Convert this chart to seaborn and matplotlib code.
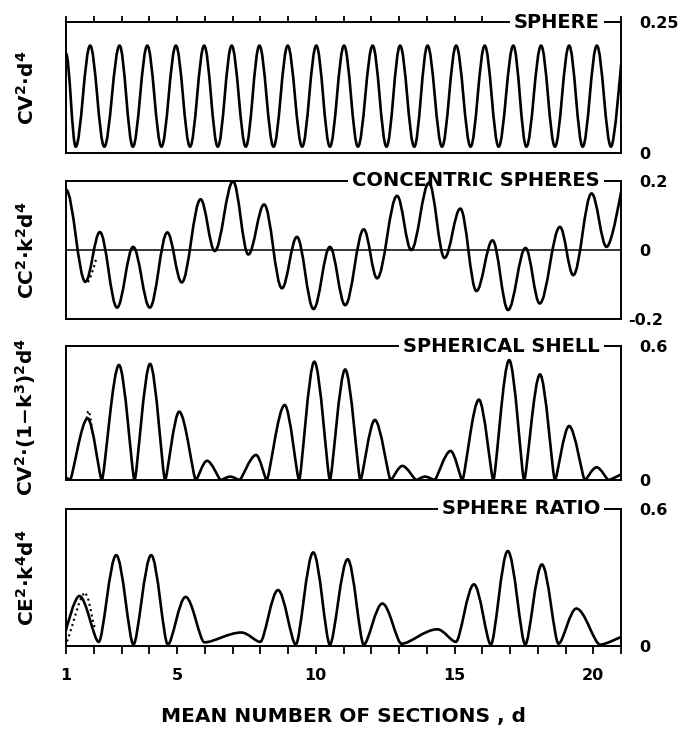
import matplotlib
matplotlib.use("Agg")
import matplotlib.pyplot as plt
import matplotlib.transforms as mtransforms
from matplotlib.path import Path
from matplotlib.patches import PathPatch
import seaborn as sns

# ---------------- data (extrema of each curve) ----------------
sphere_x = [1.00, 1.35, 1.87, 2.38, 2.93, 3.41, 3.93, 4.44, 4.96, 5.47, 5.98, 6.47, 6.97,
            7.48, 7.97, 8.48, 8.99, 9.51, 10.02, 10.51, 11.02, 11.52, 12.05, 12.55, 13.04,
            13.55, 14.03, 14.55, 15.06, 15.58, 16.09, 16.59, 17.12, 17.59, 18.12, 18.62,
            19.13, 19.62, 20.13, 20.64, 21.00]
sphere_y = [0.190, 0.012, 0.205, 0.012, 0.205, 0.012, 0.205, 0.012, 0.205, 0.012, 0.205,
            0.012, 0.205, 0.012, 0.205, 0.012, 0.205, 0.012, 0.205, 0.012, 0.205, 0.012,
            0.205, 0.012, 0.205, 0.012, 0.205, 0.012, 0.205, 0.012, 0.205, 0.012, 0.205,
            0.012, 0.205, 0.012, 0.205, 0.012, 0.205, 0.012, 0.168]

conc_x = [1.00, 1.70, 2.22, 2.84, 3.42, 4.02, 4.65, 5.17, 5.85, 6.36, 7.02, 7.57, 8.14,
          8.78, 9.32, 9.92, 10.51, 11.06, 11.73, 12.21, 12.93, 13.44, 14.08, 14.64, 15.21,
          15.79, 16.37, 16.93, 17.56, 18.07, 18.80, 19.28, 19.94, 20.48, 21.00]
conc_y = [0.175, -0.092, 0.052, -0.167, 0.009, -0.167, 0.051, -0.094, 0.147, -0.003,
          0.199, -0.013, 0.132, -0.111, 0.038, -0.171, 0.009, -0.160, 0.060, -0.082,
          0.157, 0.000, 0.195, -0.023, 0.120, -0.119, 0.028, -0.174, 0.006, -0.155,
          0.067, -0.073, 0.164, 0.009, 0.168]

shell_x = [1.00, 1.14, 1.78, 2.29, 2.91, 3.47, 4.03, 4.57, 5.08, 5.68, 6.08, 6.58, 6.92,
           7.25, 7.85, 8.23, 8.88, 9.40, 9.95, 10.51, 11.06, 11.61, 12.13, 12.70, 13.12,
           13.62, 13.94, 14.28, 14.86, 15.28, 15.88, 16.40, 16.97, 17.51, 18.08, 18.62,
           19.13, 19.70, 20.12, 20.55, 21.00]
shell_y = [0.012, 0.000, 0.276, 0.000, 0.515, 0.000, 0.520, 0.000, 0.306, 0.000, 0.086,
           0.000, 0.015, 0.000, 0.112, 0.000, 0.336, 0.000, 0.530, 0.000, 0.495, 0.000,
           0.269, 0.000, 0.063, 0.000, 0.015, 0.000, 0.130, 0.000, 0.360, 0.000, 0.537,
           0.000, 0.473, 0.000, 0.242, 0.000, 0.057, 0.000, 0.025]

ratio_x = [1.00, 1.48, 2.18, 2.81, 3.43, 4.07, 4.67, 5.31, 5.99, 7.32, 8.00, 8.64, 9.28,
           9.91, 10.51, 11.15, 11.73, 12.40, 13.09, 14.38, 15.05, 15.70, 16.31, 16.92,
           17.55, 18.15, 18.75, 19.39, 20.25, 21.00]
ratio_y = [0.069, 0.219, 0.018, 0.398, 0.006, 0.398, 0.006, 0.215, 0.016, 0.059, 0.018,
           0.245, 0.006, 0.410, 0.006, 0.380, 0.006, 0.186, 0.010, 0.073, 0.018, 0.270,
           0.006, 0.416, 0.006, 0.357, 0.010, 0.164, 0.006, 0.040]

# dotted approximations near small d
conc_dot_x = [1.66, 1.72, 1.78, 1.86, 1.94, 2.02, 2.08]
conc_dot_y = [-0.090, -0.097, -0.095, -0.083, -0.065, -0.045, -0.028]
shell_dot_x = [1.74, 1.79, 1.83, 1.87, 1.92]
shell_dot_y = [0.275, 0.305, 0.310, 0.285, 0.245]
ratio_dot_x = [1.04, 1.15, 1.30, 1.45, 1.58, 1.68, 1.78, 1.88, 1.98, 2.06]
ratio_dot_y = [0.020, 0.060, 0.120, 0.180, 0.220, 0.235, 0.215, 0.165, 0.105, 0.070]

titles = ["SPHERE", "CONCENTRIC SPHERES", "SPHERICAL SHELL", "SPHERE RATIO"]
ylabels = [r"$\mathbf{CV^2{\cdot}d^4}$", r"$\mathbf{CC^2{\cdot}k^2d^4}$",
           r"$\mathbf{CV^2{\cdot}(1{-}k^3)^2d^4}$", r"$\mathbf{CE^2{\cdot}k^4d^4}$"]
ylims = [(0, 0.25), (-0.2, 0.2), (0, 0.6), (0, 0.6)]
yticks = [[0, 0.25], [-0.2, 0, 0.2], [0, 0.6], [0, 0.6]]
yticklabels = [["0", "0.25"], ["-0.2", "0", "0.2"], ["0", "0.6"], ["0", "0.6"]]
xtick_vals = list(range(1, 22))
xtick_text = ["1", "", "", "", "5", "", "", "", "", "10", "", "", "", "", "15",
              "", "", "", "", "20", ""]
xlabel = "MEAN NUMBER OF SECTIONS , d"

# ---------------- style ----------------
sns.set_theme(style="ticks", rc={
    "axes.edgecolor": "black", "axes.linewidth": 1.4, "xtick.color": "black",
    "ytick.color": "black", "text.color": "black", "axes.labelcolor": "black",
    "axes.facecolor": "white", "figure.facecolor": "white"})
plt.rcParams["font.family"] = ["DejaVu Sans"]
plt.rcParams["font.weight"] = "bold"
plt.rcParams["mathtext.fontset"] = "dejavusans"


def smooth_path(xs, ys, k_peak, k_trough, flat_start):
    """Curve through the read extrema, drawn as cubic Bezier segments with
    horizontal tangents at each extremum."""
    n = len(xs)
    kinds = []
    for i in range(n):
        if i == 0:
            kinds.append("flat" if flat_start else "end")
        elif i == n - 1:
            kinds.append("end")
        elif ys[i] >= max(ys[i - 1], ys[i + 1]):
            kinds.append("peak")
        else:
            kinds.append("trough")
    kval = {"peak": k_peak, "trough": k_trough, "flat": k_peak, "end": 0.0}
    verts = [(xs[0], ys[0])]
    codes = [Path.MOVETO]
    for i in range(n - 1):
        h = xs[i + 1] - xs[i]
        verts += [(xs[i] + kval[kinds[i]] * h, ys[i]),
                  (xs[i + 1] - kval[kinds[i + 1]] * h, ys[i + 1]),
                  (xs[i + 1], ys[i + 1])]
        codes += [Path.CURVE4] * 3
    return Path(verts, codes)


fig = plt.figure(figsize=(6.85, 7.29), dpi=100)
L, W = 66 / 685, 555 / 685
frames = [(22, 153), (181, 319), (346, 480), (509, 646)]
axes = [fig.add_axes([L, 1 - b / 729, W, (b - t) / 729]) for t, b in frames]

series = [(sphere_x, sphere_y, 0.36, 0.36, True),
          (conc_x, conc_y, 0.36, 0.36, True),
          (shell_x, shell_y, 0.36, 0.16, False),
          (ratio_x, ratio_y, 0.36, 0.26, False)]
dots = [None, (conc_dot_x, conc_dot_y), (shell_dot_x, shell_dot_y),
        (ratio_dot_x, ratio_dot_y)]

for i, ax in enumerate(axes):
    xs, ys, kp, kt, fs = series[i]
    ax.add_patch(PathPatch(smooth_path(xs, ys, kp, kt, fs), fill=False, lw=1.9,
                           ec="black", capstyle="round", joinstyle="round", zorder=6))
    if dots[i] is not None:
        sns.lineplot(x=dots[i][0], y=dots[i][1], ax=ax, color="black", lw=1.5,
                     linestyle=(0, (1, 1.6)), estimator=None, sort=False, zorder=6)
    ax.set_xlim(1, 21)
    ax.set_ylim(*ylims[i])
    for sp in ax.spines.values():
        sp.set_visible(True)
        sp.set_linewidth(1.4)
        sp.set_color("black")
    # right hand value labels
    ax.yaxis.tick_right()
    ax.set_yticks(yticks[i])
    ax.set_yticklabels(yticklabels[i])
    ax.tick_params(axis="y", left=False, right=True, length=0, pad=13,
                   labelsize=11.5)
    # left rotated quantity label
    ax.set_ylabel(ylabels[i], fontsize=14.5, labelpad=0)
    ax.yaxis.set_label_position("left")
    ax.yaxis.set_label_coords(-0.05, 0.47 if i == 2 else 0.5)
    # title sitting on the top frame line
    ax.text(0.962, 1.0, titles[i], transform=ax.transAxes, ha="right", va="center",
            fontsize=14, fontweight="bold", zorder=5, clip_on=False,
            bbox=dict(boxstyle="square,pad=0.2", fc="white", ec="none"))

    if i == 0:
        ax.set_xticks(list(range(1, 17)) + [21])
        ax.tick_params(axis="x", top=True, bottom=False, labeltop=False,
                       labelbottom=False, direction="out", length=4.5, width=1.3)
    elif i == 3:
        ax.set_xticks(xtick_vals)
        ax.set_xticklabels(xtick_text)
        ax.tick_params(axis="x", bottom=True, top=False, direction="out", length=6,
                       width=1.3, pad=10, labelsize=11.5)
        ax.set_xlabel(xlabel, fontsize=14.5, fontweight="bold", labelpad=17)
    else:
        ax.set_xticks([])
    if i == 1:
        ax.axhline(0, color="black", lw=1.1, zorder=4)
        offset = mtransforms.ScaledTranslation(-8 / 72, 0, fig.dpi_scale_trans)
        lbl = ax.get_yticklabels()[0]
        lbl.set_transform(lbl.get_transform() + offset)

fig.savefig("out.png", dpi=100)
